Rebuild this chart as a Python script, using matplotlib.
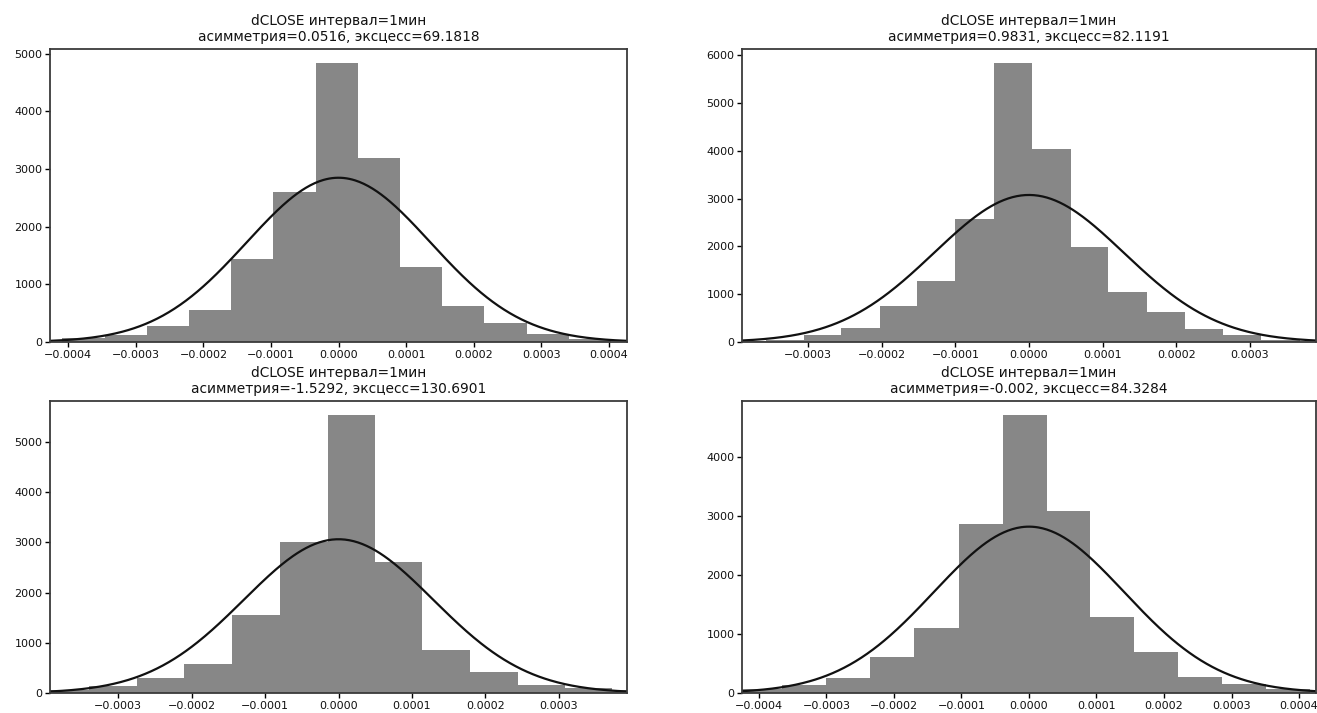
import numpy as np
import matplotlib.pyplot as plt

# histogram bin edges / counts of dCLOSE for four series, plus the fitted normal
edges_1 = [-0.000409, -0.000346, -0.000284, -0.000221, -0.000159, -0.0000965, -0.000034,
           0.0000285, 0.000091, 0.0001535, 0.000216, 0.0002785, 0.000341, 0.0004035]
counts_1 = [70, 130, 283, 560, 1433, 2595, 4838, 3190, 1295, 618, 335, 133, 60]
skew_1, kurt_1 = 0.0516, 69.1818
sigma_1 = 0.000136

edges_2 = [-0.00041, -0.000358, -0.000306, -0.000255, -0.000203, -0.000152, -0.0001,
           -0.000048, 0.0000045, 0.0000565, 0.000108, 0.00016, 0.000212, 0.000264,
           0.000316, 0.000368]
counts_2 = [30, 50, 153, 292, 743, 1278, 2563, 5833, 4028, 1979, 1042, 625, 278, 153, 50]
skew_2, kurt_2 = 0.9831, 82.1191
sigma_2 = 0.000129

edges_3 = [-0.000404, -0.00034, -0.000275, -0.00021, -0.000145, -0.00008, -0.0000145,
           0.000049, 0.000114, 0.000179, 0.000244, 0.000309, 0.000373, 0.000438]
counts_3 = [50, 132, 298, 583, 1543, 3000, 5536, 2603, 861, 417, 159, 99, 50]
skew_3, kurt_3 = -1.5292, 130.6901
sigma_3 = 0.000129

edges_4 = [-0.000431, -0.000366, -0.0003, -0.000235, -0.00017, -0.000104, -0.000039,
           0.000026, 0.000091, 0.000156, 0.000221, 0.000286, 0.000351, 0.000416]
counts_4 = [73, 140, 253, 601, 1101, 2854, 4708, 3079, 1292, 691, 270, 157, 73]
skew_4, kurt_4 = -0.002, 84.3284
sigma_4 = 0.000141

xlims = [0.000427, 0.00039, 0.000393, 0.000425]

panels = [
    (edges_1, counts_1, skew_1, kurt_1, sigma_1),
    (edges_2, counts_2, skew_2, kurt_2, sigma_2),
    (edges_3, counts_3, skew_3, kurt_3, sigma_3),
    (edges_4, counts_4, skew_4, kurt_4, sigma_4),
]

fig = plt.figure(figsize=(13.17, 7.13), dpi=100)
rects = [
    [0.0380, 0.5203, 0.4381, 0.4109],
    [0.5634, 0.5203, 0.4358, 0.4109],
    [0.0380, 0.0281, 0.4381, 0.4095],
    [0.5634, 0.0281, 0.4358, 0.4095],
]

for rect, (edges, counts, sk, ku, sigma), xl in zip(rects, panels, xlims):
    ax = fig.add_axes(rect)
    edges = np.array(edges)
    counts = np.array(counts)
    widths = np.diff(edges)
    ax.bar(edges[:-1], counts, width=widths, align='edge', color='#878787', linewidth=0)

    # normal curve with the same total area as the histogram
    area = np.sum(counts * widths)
    xs = np.linspace(-xl, xl, 400)
    ys = area / (sigma * np.sqrt(2 * np.pi)) * np.exp(-xs ** 2 / (2 * sigma ** 2))
    ax.plot(xs, ys, color='#111111', lw=1.6)

    ax.set_xlim(-xl, xl)
    ax.set_ylim(0, counts.max() * 1.05)
    ax.set_title('dCLOSE интервал=1мин\nасимметрия={}, эксцесс={}'.format(sk, ku),
                 fontsize=9.9, pad=6, linespacing=1.12, color='#111111')
    ax.tick_params(labelsize=8.0, length=3.5, width=1.0, pad=2, labelcolor='#111111')
    for s in ax.spines.values():
        s.set_linewidth(1.3)
        s.set_color('#3a3a3a')

fig.savefig('out.png', dpi=100)
